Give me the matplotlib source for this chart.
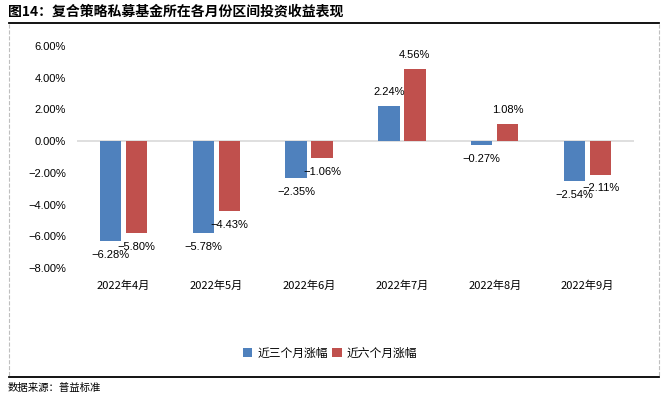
import matplotlib.pyplot as plt
from matplotlib.lines import Line2D
import numpy as np

plt.rcParams['font.family'] = ['Noto Sans CJK SC', 'DejaVu Sans']

# data
months = ['2022年4月', '2022年5月', '2022年6月', '2022年7月', '2022年8月', '2022年9月']
chg_3m = [-6.28, -5.78, -2.35, 2.24, -0.27, -2.54]
chg_6m = [-5.80, -4.43, -1.06, 4.56, 1.08, -2.11]
series_names = ['近三个月涨幅', '近六个月涨幅']
yticks = [6, 4, 2, 0, -2, -4, -6, -8]

c_blue = '#4F81BD'
c_red = '#C0504D'
num_font = ['Liberation Sans', 'DejaVu Sans']


def pct(v):
    return f'{v:.2f}%'.replace('-', '\u2212')


W, H = 669, 396
fig = plt.figure(figsize=(W / 100, H / 100), dpi=100)
ax = fig.add_axes([77 / W, 1 - 268 / H, (634 - 77) / W, (268 - 46) / H])

x = np.arange(len(months))
bw = 0.23
gap = 0.05
b1 = ax.bar(x - (bw + gap) / 2, chg_3m, bw, color=c_blue, label=series_names[0])
b2 = ax.bar(x + (bw + gap) / 2, chg_6m, bw, color=c_red, label=series_names[1])

for bars, vals in [(b1, chg_3m), (b2, chg_6m)]:
    for rect, v in zip(bars, vals):
        cx = rect.get_x() + rect.get_width() / 2
        off = 10 if v >= 0 else -10
        ax.annotate(pct(v), (cx, v), xytext=(0, off), textcoords='offset points',
                    ha='center', va='center', fontsize=8, family=num_font)

ax.axhline(0, color='#D9D9D9', lw=1.2, zorder=0)
ax.set_xlim(-0.5, len(months) - 0.5)
ax.set_ylim(-8, 6)
ax.set_yticks(yticks)
ax.set_yticklabels([pct(t) for t in yticks], family=num_font, fontsize=8)
ax.set_xticks(x)
ax.set_xticklabels(months, fontsize=8)
ax.tick_params(length=0, axis='y', pad=8)
ax.tick_params(length=0, axis='x', pad=9)
for s in ax.spines.values():
    s.set_visible(False)

ax.legend(loc='center', bbox_to_anchor=(330 / W, 1 - 353 / H), bbox_transform=fig.transFigure,
          ncol=2, frameon=False, fontsize=8.5, handlelength=0.8, handleheight=0.8,
          handletextpad=0.4, columnspacing=0.4)

# frame decorations
fig.text(8 / W, 1 - 12 / H, '图14：复合策略私募基金所在各月份区间投资收益表现', fontsize=10,
         va='center', ha='left', fontweight='bold')
fig.text(8 / W, 1 - 388 / H, '数据来源：普益标准', fontsize=7.5, va='center', ha='left')
fig.add_artist(Line2D([9 / W, 659 / W], [1 - 23 / H] * 2, color='black', lw=1.3))
fig.add_artist(Line2D([9 / W, 659 / W], [1 - 377 / H] * 2, color='black', lw=1.3))
for xx in [9, 659]:
    fig.add_artist(Line2D([xx / W] * 2, [1 - 24 / H, 1 - 376 / H], color='#BFBFBF', lw=0.8, ls='--'))

fig.savefig('out.png', dpi=100)
